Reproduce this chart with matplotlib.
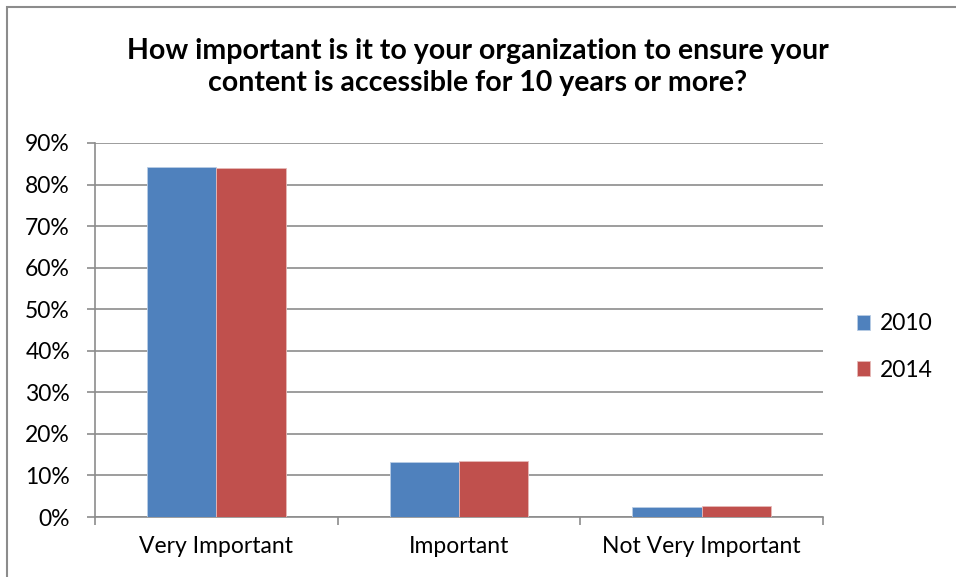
import matplotlib.pyplot as plt
import numpy as np
from matplotlib.patches import Rectangle

categories = ["Very Important", "Important", "Not Very Important"]
years = ["2010", "2014"]
values_2010 = [84.3, 13.3, 2.5]
values_2014 = [83.9, 13.4, 2.7]
colors = ["#4F81BD", "#C0504D"]
title = "How important is it to your organization to ensure your\ncontent is accessible for 10 years or more?"

W, H = 956, 577
plt.rcParams['font.family'] = ['Lato', 'DejaVu Sans']

fig = plt.figure(figsize=(W / 100, H / 100), dpi=100)
fig.patch.set_facecolor("white")

# chart border (left and top visible, rest runs off the picture)
fig.patches.append(Rectangle((7 / W, -0.05), 1.1, 1 - 7 / H + 0.05, transform=fig.transFigure,
                             fill=False, edgecolor="#8C8C8C", linewidth=1.5))

left, right, bottom, top = 95 / W, 823 / W, 1 - 517 / H, 1 - 143 / H
ax = fig.add_axes([left, bottom, right - left, top - bottom])

n = len(categories)
bar_w = 1 / 3.5
x = np.arange(n) + 0.5
ax.bar(x - bar_w / 2, values_2010, bar_w, color=colors[0], label=years[0], edgecolor="#B9CDE5",
       linewidth=0.6, zorder=3)
ax.bar(x + bar_w / 2, values_2014, bar_w, color=colors[1], label=years[1], edgecolor="#E6B9B8",
       linewidth=0.6, zorder=3)

ax.set_xlim(0, n)
ax.set_ylim(0, 90)
ax.set_yticks(np.arange(0, 91, 10))
ax.set_yticklabels([f"{v}%" for v in range(0, 91, 10)], fontsize=16.5)
ax.yaxis.grid(True, color="#8C8C8C", linewidth=1.2, zorder=0)

ax.set_xticks(np.arange(n + 1))
ax.set_xticklabels([])
ax.set_xticks(x, minor=True)
ax.set_xticklabels(categories, minor=True, fontsize=16.5)
ax.tick_params(axis="x", which="minor", length=0, pad=14)
ax.tick_params(axis="x", which="major", length=6, color="#8C8C8C", width=1.2)
ax.tick_params(axis="y", length=6, color="#8C8C8C", width=1.2, direction="out", pad=12)

for side in ["top", "right"]:
    ax.spines[side].set_visible(False)
for side in ["left", "bottom"]:
    ax.spines[side].set_color("#8C8C8C")
    ax.spines[side].set_linewidth(1.2)

fig.text(478 / W, 1 - 67 / H, title, ha="center", va="center", fontsize=20.5, fontweight="bold",
         linespacing=1.25)

ax.legend(loc="center left", bbox_to_anchor=(836 / W, 1 - 347 / H), bbox_transform=fig.transFigure,
          frameon=False, fontsize=16.5, handlelength=0.6, handleheight=0.6, handletextpad=0.4,
          labelspacing=1.1)

fig.savefig("out.png", dpi=100)
